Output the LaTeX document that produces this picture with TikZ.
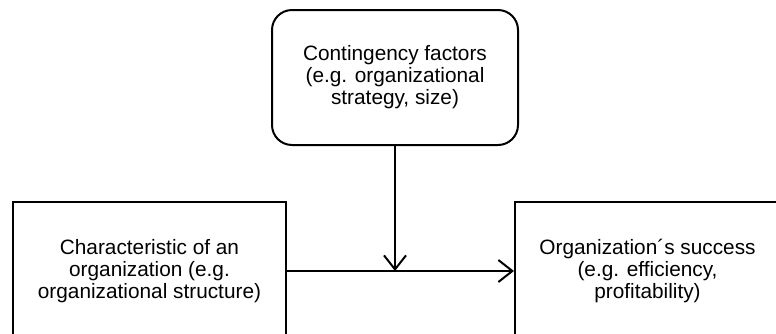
\documentclass[tikz,border=0pt]{standalone}
\usepackage{fontspec}
\setmainfont{Liberation Sans}
\usetikzlibrary{arrows.meta, positioning}

\begin{document}
\begin{tikzpicture}[
      x=1pt, y=-1pt,
      every node/.style={font=\fontsize{20.8}{22}\selectfont, align=center},
      factorbox/.style={rectangle, draw, line width=2pt, rounded corners=20pt, minimum width=246pt, minimum height=135pt},
      mainbox/.style={rectangle, draw, line width=2pt, minimum height=138pt},
      flow/.style={draw, line width=2pt, -{Straight Barb[length=14pt, width=22pt, line width=2pt]}}
    ]
    \useasboundingbox (0,0) rectangle (776,333);

    % moderating factors on top
    \node[factorbox] (factors) at (395,77.5) {Contingency factors\\(e.g. organizational\\strategy, size)};

    % cause and effect boxes
    \node[mainbox, minimum width=273pt] (org) at (149.5,271) {Characteristic of an\\organization (e.g.\\organizational structure)};
    \node[mainbox, minimum width=265pt] (success) at (647.5,271) {Organization´s success\\(e.g. efficiency,\\profitability)};

    % arrows
    \coordinate (join) at (factors.south |- org.east);
    \draw[flow] (org.east) -- (success.west);
    \draw[flow] (factors.south) -- (join);

\end{tikzpicture}
\end{document}
